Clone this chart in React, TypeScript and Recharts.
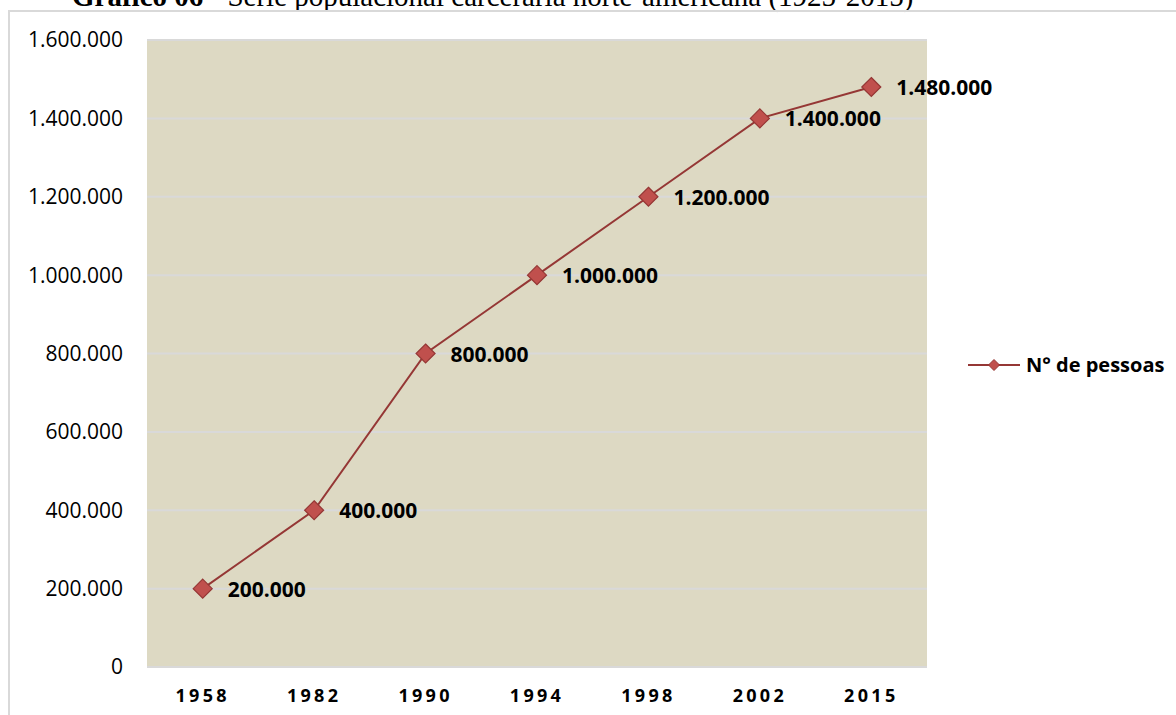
import React from 'react';
import { LineChart, Line, XAxis, YAxis, CartesianGrid, Legend, LabelList } from 'recharts';

const years = ['1958', '1982', '1990', '1994', '1998', '2002', '2015'];
const people = [200000, 400000, 800000, 1000000, 1200000, 1400000, 1480000];
const yTicks = [0, 200000, 400000, 600000, 800000, 1000000, 1200000, 1400000, 1600000];
const seriesName = 'N° de pessoas';
const titleBold = 'Gráfico 06';
const titleRest = ' - Série populacional carcerária norte-americana (1925-2015)';

const data = years.map((y, i) => ({ year: y, value: people[i] }));

const fmt = (v: number) => String(v).replace(/\B(?=(\d{3})+(?!\d))/g, '.');

const FONT = '"Open Sans", "Noto Sans", sans-serif';
const LINE = '#953735';
const FILL = '#c0504d';

const Diamond = (props: any) => {
  const { cx, cy } = props;
  if (cx == null || cy == null) return null;
  const r = 9.5;
  return (
    <polygon
      points={`${cx},${cy - r} ${cx + r},${cy} ${cx},${cy + r} ${cx - r},${cy}`}
      fill={FILL}
      stroke={LINE}
      strokeWidth={1.2}
    />
  );
};

const DataLabel = (props: any) => {
  const { x, y, value } = props;
  return (
    <text
      x={x + 25}
      y={y}
      dominantBaseline="central"
      fontFamily={FONT}
      fontWeight={700}
      fontSize={21}
      fill="#000"
    >
      {fmt(value)}
    </text>
  );
};

const LegendContent = () => (
  <div style={{ display: 'flex', alignItems: 'center', height: 20 }}>
    <svg width={52} height={20} style={{ display: 'block' }}>
      <line x1={0} y1={10} x2={52} y2={10} stroke={LINE} strokeWidth={2} />
      <polygon points="26,4.5 31.5,10 26,15.5 20.5,10" fill={FILL} stroke={LINE} strokeWidth={1} />
    </svg>
    <span
      style={{
        fontFamily: FONT,
        fontWeight: 700,
        fontSize: 20,
        lineHeight: '20px',
        marginLeft: 6,
        color: '#000',
        whiteSpace: 'nowrap',
      }}
    >
      {seriesName}
    </span>
  </div>
);

export default function App() {
  return (
    <div
      style={{
        position: 'absolute',
        left: 0,
        top: 0,
        width: 1176,
        height: 715,
        overflow: 'hidden',
        background: '#fff',
      }}
    >
      <svg width={1176} height={20} style={{ position: 'absolute', left: 0, top: 0 }}>
        <text x={72} y={6} fontFamily='"Liberation Serif", "Times New Roman", serif' fontSize={29} fill="#000">
          <tspan fontWeight={700}>{titleBold}</tspan>
          <tspan>{titleRest}</tspan>
        </text>
      </svg>
      <div
        style={{
          position: 'absolute',
          left: 8,
          top: 10,
          width: 1200,
          height: 800,
          border: '2px solid #d9d9d9',
          boxSizing: 'border-box',
        }}
      />
      <div style={{ position: 'absolute', left: 0, top: 0 }}>
        <LineChart
          width={1176}
          height={715}
          data={data}
          margin={{ top: 40, right: 249, bottom: 0, left: 0 }}
        >
          <CartesianGrid
            vertical={false}
            horizontal={true}
            fill="#ddd9c3"
            stroke="#d9d9d9"
            strokeWidth={2}
          />
          <XAxis
            dataKey="year"
            scale="point"
            padding={{ left: 55.7, right: 55.7 }}
            axisLine={{ stroke: '#d9d9d9', strokeWidth: 2 }}
            tickLine={false}
            tickSize={0}
            tickMargin={22}
            height={48}
            tick={{ fontFamily: FONT, fontWeight: 700, fontSize: 18, fill: '#000', letterSpacing: 3.3 }}
            interval={0}
          />
          <YAxis
            domain={[0, 1600000]}
            ticks={yTicks}
            tickFormatter={fmt}
            axisLine={false}
            tickLine={false}
            tickSize={0}
            tickMargin={24}
            width={147}
            tick={{ fontFamily: FONT, fontSize: 21, fill: '#000' }}
            interval={0}
          />
          <Legend
            layout="horizontal"
            verticalAlign="middle"
            align="center"
            content={LegendContent}
            wrapperStyle={{ left: 968, top: 355, width: 208, height: 20 }}
          />
          <Line
            type="linear"
            dataKey="value"
            name={seriesName}
            stroke={LINE}
            strokeWidth={2}
            dot={<Diamond />}
            activeDot={false}
            isAnimationActive={false}
          >
            <LabelList dataKey="value" content={<DataLabel />} />
          </Line>
        </LineChart>
      </div>
    </div>
  );
}
